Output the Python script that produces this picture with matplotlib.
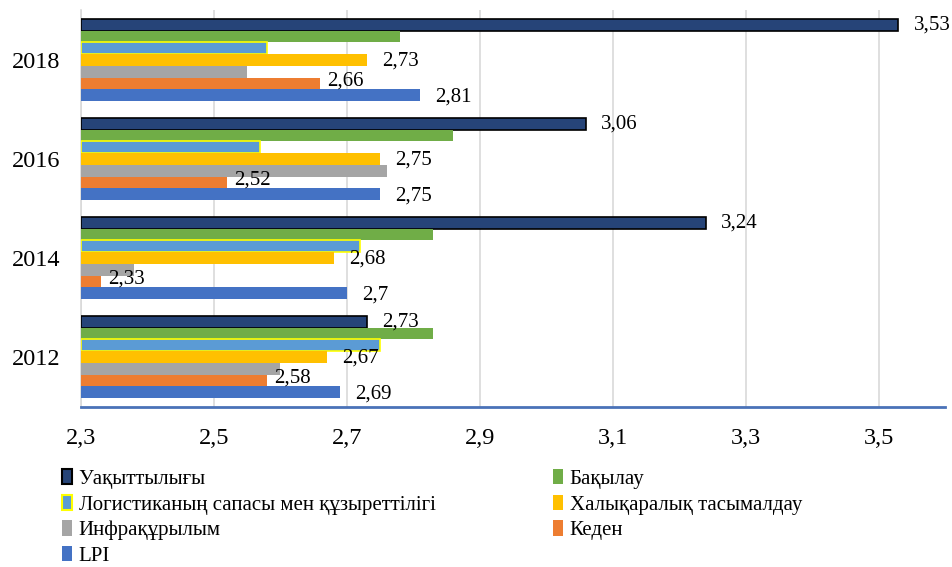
import numpy as np
import matplotlib.pyplot as plt
from matplotlib.patches import Patch

plt.rcParams['font.family'] = ['Liberation Serif', 'DejaVu Serif']

# ---- data ----
years = ['2012', '2014', '2016', '2018']
series_names = ['Уақыттылығы', 'Бақылау', 'Логистиканың сапасы мен құзыреттілігі',
                'Халықаралық тасымалдау', 'Инфрақұрылым', 'Кеден', 'LPI']
timeliness = [2.73, 3.24, 3.06, 3.53]
tracking = [2.83, 2.83, 2.86, 2.78]
logistics_quality = [2.75, 2.72, 2.57, 2.58]
intl_shipments = [2.67, 2.68, 2.75, 2.73]
infrastructure = [2.60, 2.38, 2.76, 2.55]
customs = [2.58, 2.33, 2.52, 2.66]
lpi = [2.69, 2.70, 2.75, 2.81]
values = [timeliness, tracking, logistics_quality, intl_shipments, infrastructure, customs, lpi]
labelled = [True, False, False, True, False, True, True]
x_ticks = [2.3, 2.5, 2.7, 2.9, 3.1, 3.3, 3.5]

# ---- style ----
colors = ['#264478', '#70AD47', '#5B9BD5', '#FFC000', '#A5A5A5', '#ED7D31', '#4472C4']
edges = ['black', None, '#FFFF00', None, None, None, None]
label_offsets = [(11, 0), (0, 0), (0, 0), (11, -1), (0, 0), (5, 2), (11, -1)]

fig = plt.figure(figsize=(9.53, 5.67), dpi=100)
ax = fig.add_axes([81 / 953, 1 - 407 / 567, (945 - 81) / 953, (407 - 10) / 567])

h = 0.119
base = np.arange(len(years))
for i, (name, vals) in enumerate(zip(series_names, values)):
    y = base + (3 - i) * h
    ax.barh(y, np.array(vals) - 2.3, left=2.3, height=h, color=colors[i],
            edgecolor=edges[i] if edges[i] else colors[i],
            linewidth=1.2 if edges[i] else 0, zorder=3)
    if labelled[i]:
        dx, dy = label_offsets[i]
        for yy, v in zip(y, vals):
            txt = f'{v:g}'.replace('.', ',')
            ax.annotate(txt, (v, yy), xytext=(dx, dy), textcoords='offset points',
                        ha='left', va='center', fontsize=15, zorder=4)

ax.set_xlim(2.3, 3.6)
ax.set_ylim(-0.505, 3.505)
ax.set_xticks(x_ticks)
ax.set_xticklabels([f'{t:g}'.replace('.', ',') for t in x_ticks], fontsize=17.5)
ax.set_yticks(base)
ax.set_yticklabels(years, fontsize=17.5)
ax.tick_params(axis='x', length=0, pad=15)
ax.tick_params(axis='y', length=0, pad=15)
ax.grid(axis='x', color='#D9D9D9', linewidth=1.2, zorder=0)
for s in ['top', 'right']:
    ax.spines[s].set_visible(False)
ax.spines['left'].set_color('#D9D9D9')
ax.spines['left'].set_linewidth(1.2)
ax.spines['bottom'].set_color('#4A72B8')
ax.spines['bottom'].set_linewidth(2)
ax.spines['bottom'].set_zorder(5)

# legend in two columns, filled row by row
handles = [Patch(facecolor=c, edgecolor=e if e else c, linewidth=1.5 if e else 0)
           for c, e in zip(colors, edges)]
col1 = [0, 2, 4, 6]
col2 = [1, 3, 5]
kw = dict(frameon=False, fontsize=15, handlelength=0.5, handleheight=0.75,
          handletextpad=0.3, labelspacing=0.28, borderpad=0, borderaxespad=0,
          loc='upper left')
leg1 = fig.legend([handles[i] for i in col1], [series_names[i] for i in col1],
                  bbox_to_anchor=(62 / 953, 1 - 469 / 567), **kw)
leg2 = fig.legend([handles[i] for i in col2], [series_names[i] for i in col2],
                  bbox_to_anchor=(553 / 953, 1 - 469 / 567), **kw)

fig.savefig('out.png', dpi=100)
